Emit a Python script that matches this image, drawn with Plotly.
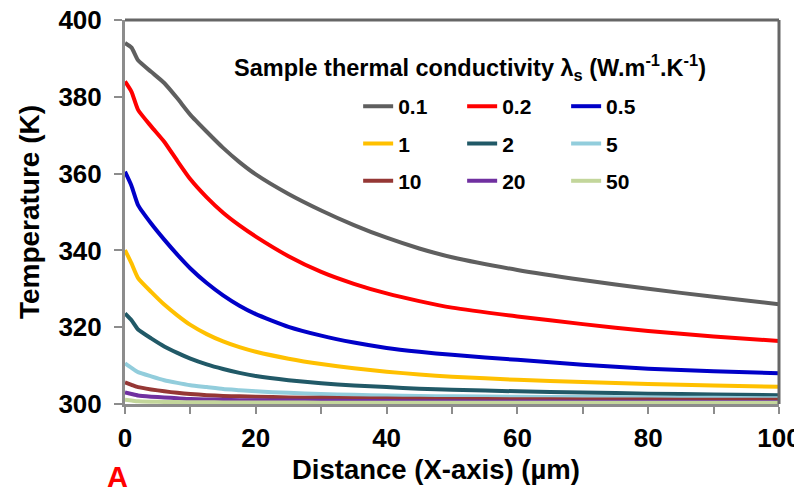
import plotly.graph_objects as go

# ---- data ----
distance_um = [0, 1, 2, 4, 6, 8, 10, 12.5, 15, 17.5, 20, 25, 30, 35, 40, 45, 50, 60, 70, 80, 90, 100]

series_names = ["0.1", "0.2", "0.5", "1", "2", "5", "10", "20", "50"]

t_01 = [394.0, 392.8, 389.5, 386.5, 383.6, 379.6, 375.3, 370.9, 366.7, 363.0, 359.8, 354.7, 350.4, 346.6, 343.3, 340.5, 338.2, 334.9, 332.3, 330.0, 327.9, 326.0]
t_02 = [384.0, 381.3, 376.6, 372.3, 368.3, 363.3, 358.5, 353.8, 349.8, 346.5, 343.6, 338.5, 334.4, 331.3, 328.8, 326.8, 325.1, 322.8, 320.8, 319.0, 317.6, 316.4]
t_05 = [360.5, 356.8, 351.8, 347.0, 342.8, 338.9, 335.3, 331.5, 328.3, 325.6, 323.4, 320.1, 317.8, 316.0, 314.6, 313.6, 312.8, 311.5, 310.2, 309.2, 308.5, 308.0]
t_1 = [340.1, 336.6, 332.8, 329.2, 325.9, 323.1, 320.6, 318.2, 316.3, 314.8, 313.6, 311.8, 310.4, 309.3, 308.4, 307.7, 307.1, 306.3, 305.7, 305.2, 304.8, 304.5]
t_2 = [323.6, 321.8, 319.4, 317.1, 315.0, 313.3, 311.8, 310.3, 309.1, 308.1, 307.3, 306.2, 305.4, 304.8, 304.4, 304.0, 303.7, 303.3, 303.0, 302.7, 302.5, 302.3]
t_5 = [310.6, 309.4, 308.3, 307.2, 306.2, 305.5, 304.9, 304.4, 303.9, 303.6, 303.3, 302.9, 302.6, 302.4, 302.2, 302.1, 302.0, 301.9, 301.8, 301.7, 301.6, 301.5]
t_10 = [305.6, 305.0, 304.4, 303.8, 303.3, 302.9, 302.6, 302.3, 302.1, 302.0, 301.9, 301.7, 301.6, 301.5, 301.4, 301.35, 301.3, 301.25, 301.2, 301.15, 301.1, 301.1]
t_20 = [303.0, 302.6, 302.2, 301.9, 301.7, 301.5, 301.3, 301.2, 301.1, 301.0, 300.95, 300.9, 300.85, 300.8, 300.75, 300.7, 300.7, 300.65, 300.6, 300.6, 300.55, 300.55]
t_50 = [301.1, 300.9, 300.7, 300.6, 300.55, 300.5, 300.45, 300.45, 300.4, 300.4, 300.4, 300.4, 300.35, 300.35, 300.35, 300.35, 300.3, 300.3, 300.3, 300.3, 300.3, 300.3]

series_values = [t_01, t_02, t_05, t_1, t_2, t_5, t_10, t_20, t_50]
series_colors = ["#5f5f5f", "#ff0000", "#0000c8", "#ffc000", "#215967",
                 "#92cddc", "#953735", "#7030a0", "#c3d69b"]
legend_ids = ["legend", "legend2", "legend3"] * 3

y_ticks = [300, 320, 340, 360, 380, 400]
x_ticks = [0, 20, 40, 60, 80, 100]

FONT = "Liberation Sans, Arial, Helvetica, sans-serif"

fig = go.Figure()
for i, (name, vals, col) in enumerate(zip(series_names, series_values, series_colors)):
    fig.add_trace(go.Scatter(
        x=distance_um, y=vals, mode="lines", name=name,
        line=dict(color=col, width=4, shape="spline", smoothing=0.5),
        legend=legend_ids[i], legendgroup=name,
    ))

leg_common = dict(
    orientation="v", yanchor="top", xanchor="left",
    bgcolor="rgba(0,0,0,0)", borderwidth=0,
    font=dict(family=FONT, size=21, color="black", weight="bold"),
    tracegroupgap=7, itemwidth=30,
)

fig.update_layout(
    width=802, height=490, autosize=False,
    margin=dict(l=117, r=31, t=12, b=94, autoexpand=False),
    paper_bgcolor="white", plot_bgcolor="white",
    font=dict(family=FONT, color="black"),
    showlegend=True,
    legend=dict(x=0.3565, y=0.828, **leg_common),
    legend2=dict(x=0.5155, y=0.828, **leg_common),
    legend3=dict(x=0.6745, y=0.828, **leg_common),
    xaxis=dict(
        range=[0, 100], tickvals=x_ticks, showgrid=False, zeroline=False,
        automargin=False, ticklabeloverflow="allow",
        showline=True, linecolor="#8c8c8c", linewidth=3,
        ticks="outside", ticklen=7, tickwidth=1.5, tickcolor="#8c8c8c",
        ticklabelstandoff=2,
        minor=dict(dtick=10, ticks="outside", ticklen=7, tickwidth=1.5, tickcolor="#8c8c8c"),
        tickfont=dict(family=FONT, size=26, weight="bold", color="black"),
    ),
    yaxis=dict(
        range=[300, 400], tickvals=y_ticks, showgrid=False, zeroline=False,
        automargin=False, ticklabeloverflow="allow",
        showline=True, linecolor="#8c8c8c", linewidth=3,
        ticks="outside", ticklen=8, tickwidth=1.5, tickcolor="#8c8c8c",
        ticklabelstandoff=7,
        tickfont=dict(family=FONT, size=26, weight="bold", color="black"),
        title=dict(text="Temperature (K)", standoff=11,
                   font=dict(family=FONT, size=28, weight="bold", color="black")),
    ),
    shapes=[
        dict(type="line", xref="paper", yref="paper", x0=0, x1=1, y0=1, y1=1,
             line=dict(color="#666666", width=3)),
        dict(type="line", xref="paper", yref="paper", x0=1, x1=1, y0=0, y1=1,
             line=dict(color="#666666", width=3)),
    ],
    annotations=[
        dict(text="Sample thermal conductivity λ<sub>s</sub> (W.m<sup>-1</sup>.K<sup>-1</sup>)",
             xref="paper", yref="paper", x=0.528, y=0.877, xanchor="center", yanchor="middle",
             showarrow=False, font=dict(family=FONT, size=23.5, weight="bold", color="black")),
        dict(text="Distance (X-axis) (µm)", xref="paper", yref="paper",
             x=0.4755, y=-0.17, xanchor="center", yanchor="middle", showarrow=False,
             font=dict(family=FONT, size=27.5, weight="bold", color="black")),
        dict(text="A", xref="paper", yref="paper", x=-0.011, y=-0.19,
             xanchor="center", yanchor="middle", showarrow=False,
             font=dict(family=FONT, size=29, weight="bold", color="#ff0000")),
    ],
)

fig.write_html("out.html")
